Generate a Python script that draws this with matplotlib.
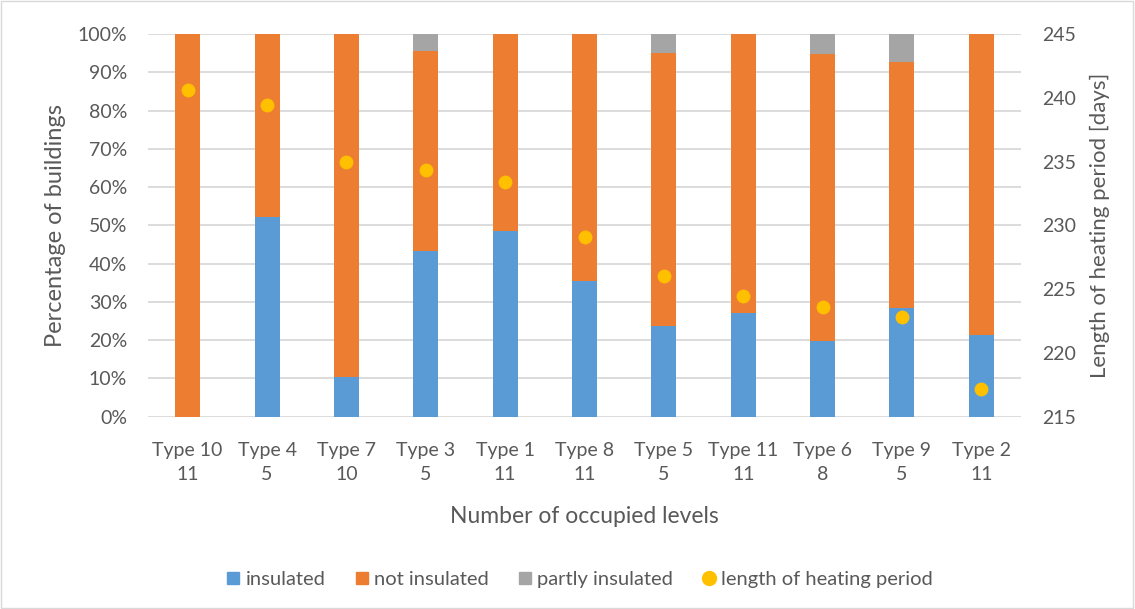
import matplotlib
matplotlib.use("Agg")
import matplotlib.pyplot as plt
from matplotlib.lines import Line2D
from matplotlib.patches import Rectangle
import numpy as np

plt.rcParams['font.family'] = ['Lato', 'DejaVu Sans']

categories = ["Type 10\n11", "Type 4\n5", "Type 7\n10", "Type 3\n5", "Type 1\n11", "Type 8\n11",
              "Type 5\n5", "Type 11\n11", "Type 6\n8", "Type 9\n5", "Type 2\n11"]
insulated = [0, 52.1, 10.3, 43.3, 48.5, 35.5, 23.8, 27.1, 19.8, 28.5, 21.3]
partly = [0, 0, 0, 4.5, 0, 0, 5.0, 0, 5.1, 7.3, 0]
not_insulated = [100 - a - b for a, b in zip(insulated, partly)]
heating = [240.6, 239.4, 235.0, 234.3, 233.4, 229.1, 226.0, 224.5, 223.6, 222.8, 217.2]

c_blue, c_orange, c_gray, c_gold = "#5B9BD5", "#ED7D31", "#A5A5A5", "#FFC000"
txt = "#595959"

fig = plt.figure(figsize=(11.35, 6.09), dpi=100)
ax = fig.add_axes([148/1135, 1-416.7/609, (1021-148)/1135, (416.7-34)/609])
x = np.arange(len(categories))
w = 0.315
ins = np.array(insulated); noti = np.array(not_insulated); par = np.array(partly)
ax.bar(x, ins, w, color=c_blue, zorder=2, label="insulated")
ax.bar(x, noti, w, bottom=ins, color=c_orange, zorder=2, label="not insulated")
ax.bar(x, par, w, bottom=ins+noti, color=c_gray, zorder=2, label="partly insulated")
ax.set_xlim(-0.5, len(categories)-0.5)
ax.set_ylim(0, 100)
ax.set_yticks(np.arange(0, 101, 10))
ax.set_yticklabels([f"{v}%" for v in range(0, 101, 10)])
ax.set_xticks(x)
ax.set_xticklabels(categories, linespacing=1.55)
ax.grid(axis='y', color="#D9D9D9", linewidth=1.3, zorder=0)
ax.set_axisbelow(True)
for s in ax.spines.values():
    s.set_visible(False)
ax.tick_params(axis='both', length=0, colors=txt, labelsize=14)
ax.tick_params(axis='y', pad=15)
ax.tick_params(axis='x', pad=18)
ax.set_ylabel("Percentage of buildings", color=txt, fontsize=17, labelpad=8)
ax.set_xlabel("Number of occupied levels", color=txt, fontsize=16.5, labelpad=16)

ax2 = ax.twinx()
ax2.scatter(x, heating, s=80, color=c_gold, zorder=3)
ax2.set_ylim(215, 245)
ax2.set_yticks(np.arange(215, 246, 5))
for s in ax2.spines.values():
    s.set_visible(False)
ax2.tick_params(axis='y', length=0, colors=txt, labelsize=14, pad=15)
ax2.set_ylabel("Length of heating period [days]", color=txt, fontsize=16, labelpad=10)

handles = [Line2D([], [], marker='s', linestyle='none', color=c_blue, markersize=9),
           Line2D([], [], marker='s', linestyle='none', color=c_orange, markersize=9),
           Line2D([], [], marker='s', linestyle='none', color=c_gray, markersize=9),
           Line2D([], [], marker='o', linestyle='none', color=c_gold, markersize=10)]
labels = ["insulated", "not insulated", "partly insulated", "length of heating period"]
fig.legend(handles, labels, loc='center', bbox_to_anchor=(578/1135, 1-579/609), ncol=4,
           frameon=False, fontsize=14.5, labelcolor=txt, handletextpad=0.1, columnspacing=1.3,
           handlelength=1.0)

fig.patches.append(Rectangle((0.001, 0.002), 0.997, 0.996, transform=fig.transFigure,
                             fill=False, edgecolor="#D9D9D9", linewidth=1))
fig.savefig("out.png", dpi=100, facecolor="white")
